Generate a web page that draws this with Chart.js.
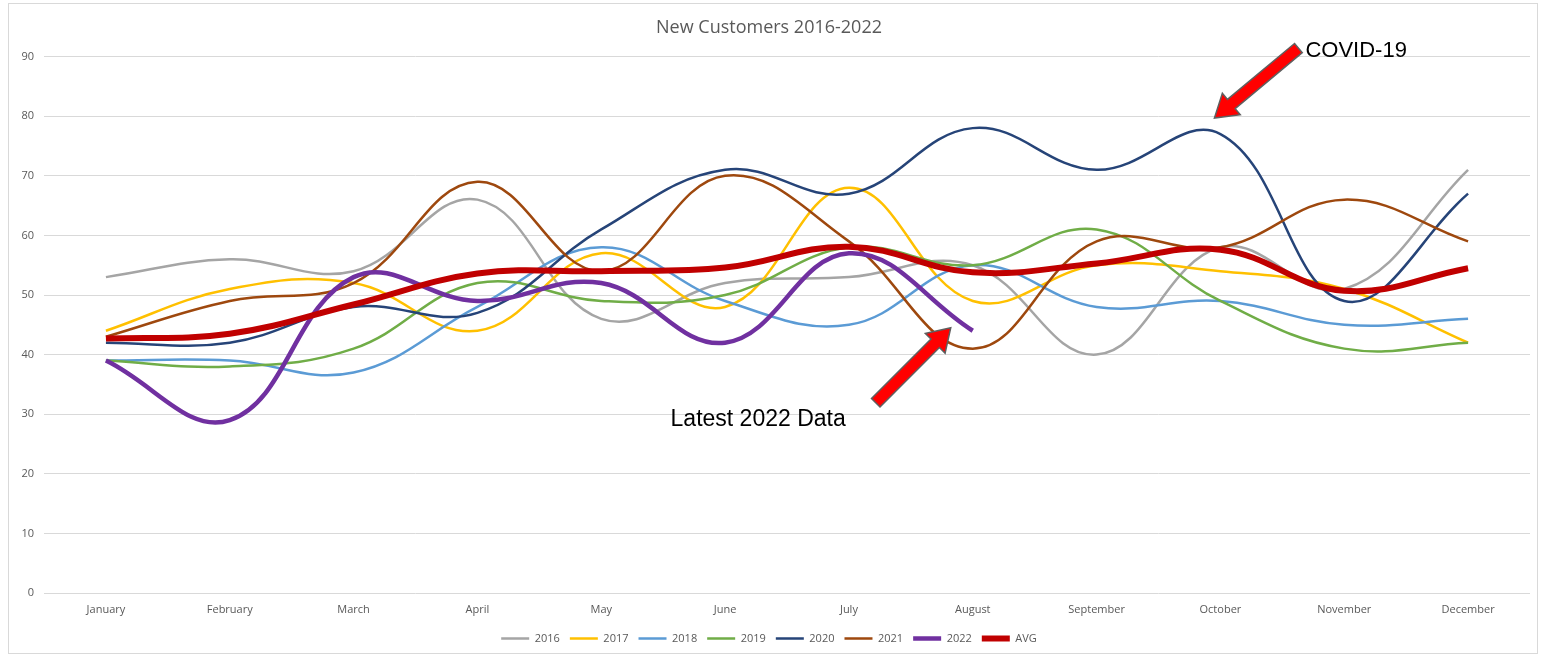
<!DOCTYPE html>
<html>
<head>
<meta charset="utf-8">
<title>New Customers 2016-2022</title>
<script src="https://cdn.jsdelivr.net/npm/chart.js@4"></script>
<style>
  html, body { margin: 0; padding: 0; background: #fff; }
  #wrap { width: 1542px; height: 657px; }
</style>
</head>
<body>
<div id="wrap"><canvas id="myChartClientes" width="1542" height="657"></canvas></div>
<script>
// Datos
const meses = ["January", "February", "March", "April", "May", "June", "July", "August", "September", "October", "November", "December"];
const data2016 = [53, 56, 54, 66, 46, 52, 53, 55, 40, 58, 51, 71];
const data2017 = [44, 51, 52, 44, 57, 48, 68, 49, 55, 54, 51, 42];
const data2018 = [39, 39, 37, 48, 58, 49, 45, 55, 48, 49, 45, 46];
const data2019 = [39, 38, 41, 52, 49, 50, 58, 55, 61, 49, 41, 42];
const data2020 = [42, 42, 48, 47, 61, 71, 67, 78, 71, 77, 49, 67];
const data2021 = [43, 49, 52, 69, 54, 70, 59, 41, 59, 58, 66, 59];
const data2022 = [39, 29, 53, 49, 52, 42, 57, 44];
const dataAVG = [42.7, 43.5, 48.4, 53.6, 54, 54.6, 58.1, 53.8, 55.3, 57.6, 50.7, 54.5];
const yTicks = [0, 10, 20, 30, 40, 50, 60, 70, 80, 90];

// flechas de anotacion
function drawArrow(ctx, tipX, tipY, tailX, tailY) {
    const dx = tipX - tailX, dy = tipY - tailY;
    const len = Math.sqrt(dx * dx + dy * dy);
    const ux = dx / len, uy = dy / len;
    const px = -uy, py = ux;
    const shaft = 6, head = 14, headLen = 22;
    const bx = tipX - ux * headLen, by = tipY - uy * headLen;
    ctx.save();
    ctx.beginPath();
    ctx.moveTo(tailX + px * shaft, tailY + py * shaft);
    ctx.lineTo(bx + px * shaft, by + py * shaft);
    ctx.lineTo(bx + px * head, by + py * head);
    ctx.lineTo(tipX, tipY);
    ctx.lineTo(bx - px * head, by - py * head);
    ctx.lineTo(bx - px * shaft, by - py * shaft);
    ctx.lineTo(tailX - px * shaft, tailY - py * shaft);
    ctx.closePath();
    ctx.fillStyle = "#ff0000";
    ctx.fill();
    ctx.lineWidth = 1.5;
    ctx.strokeStyle = "#5f5f5f";
    ctx.stroke();
    ctx.restore();
}

const notasPlugin = {
    id: "notas",
    beforeDraw(chart) {
        const ctx = chart.ctx;
        ctx.save();
        ctx.fillStyle = "#ffffff";
        ctx.fillRect(0, 0, chart.width, chart.height);
        ctx.strokeStyle = "#d9d9d9";
        ctx.lineWidth = 1;
        ctx.strokeRect(8.5, 3.5, 1529, 650);
        ctx.restore();
    },
    afterDraw(chart) {
        const ctx = chart.ctx;
        const xs = chart.scales.x, ys = chart.scales.y;
        // COVID-19 -> octubre 2020
        const cx = xs.getPixelForValue(9) - 6, cy = ys.getPixelForValue(data2020[9]) - 16;
        drawArrow(ctx, cx, cy, cx + 84, cy - 70);
        // Latest 2022 -> ultimo dato de 2022
        const lx = xs.getPixelForValue(data2022.length - 1) - 22, ly = ys.getPixelForValue(data2022[data2022.length - 1]) - 3;
        drawArrow(ctx, lx, ly, lx - 75, ly + 75);
        ctx.save();
        ctx.fillStyle = "#000000";
        ctx.textBaseline = "middle";
        ctx.textAlign = "left";
        ctx.font = "22px 'Liberation Sans', Arial, sans-serif";
        ctx.fillText("COVID-19", cx + 91, cy - 67);
        ctx.textAlign = "right";
        ctx.font = "23px 'Liberation Sans', Arial, sans-serif";
        ctx.fillText("Latest 2022 Data", lx - 105, ly + 92);
        ctx.restore();
    }
};

function serie(label, data, color, width, order) {
    return {
        label: label,
        data: data,
        borderColor: color,
        backgroundColor: color,
        borderWidth: width,
        pointRadius: 0,
        pointHoverRadius: 0,
        tension: 0.4,
        fill: false,
        order: order,
    };
}

const ctxClientes = document.getElementById("myChartClientes").getContext("2d");
let myChartClientes = new Chart(ctxClientes, {
    type: "line",
    data: {
        labels: meses,
        datasets: [
            serie("2016", data2016, "#a5a5a5", 2.5, 7),
            serie("2017", data2017, "#ffc000", 2.5, 6),
            serie("2018", data2018, "#5b9bd5", 2.5, 5),
            serie("2019", data2019, "#70ad47", 2.5, 4),
            serie("2020", data2020, "#264478", 2.5, 3),
            serie("2021", data2021, "#9e480e", 2.5, 2),
            serie("2022", data2022, "#7030a0", 4.5, 1),
            serie("AVG", dataAVG, "#c00000", 6, 0),
        ],
    },
    plugins: [notasPlugin],
    options: {
        responsive: false,
        animation: false,
        layout: {
            padding: { left: 8, right: 12, top: 0, bottom: 3 },
        },
        plugins: {
            title: {
                display: true,
                text: "New Customers 2016-2022",
                color: "#595959",
                font: { family: "'Open Sans', sans-serif", size: 18, weight: "normal" },
                padding: { top: 17, bottom: 18 },
            },
            legend: {
                position: "bottom",
                labels: {
                    usePointStyle: true,
                    pointStyle: "line",
                    pointStyleWidth: 28,
                    boxWidth: 28,
                    boxHeight: 10,
                    padding: 10,
                    color: "#595959",
                    font: { family: "'Open Sans', sans-serif", size: 11 },
                    sort: (a, b) => a.datasetIndex - b.datasetIndex,
                },
            },
            tooltip: { enabled: false },
        },
        scales: {
            x: {
                offset: true,
                grid: { display: false },
                border: { display: false },
                ticks: {
                    color: "#595959",
                    font: { family: "'Open Sans', sans-serif", size: 11 },
                    padding: 2,
                    maxRotation: 0,
                    autoSkip: false,
                },
                afterFit: (scale) => { scale.height = 30; },
            },
            y: {
                min: yTicks[0],
                max: yTicks[yTicks.length - 1],
                afterBuildTicks: (scale) => { scale.ticks = yTicks.map(v => ({ value: v })); },
                grid: { color: "#d9d9d9", lineWidth: 1, drawTicks: false },
                border: { display: false },
                ticks: {
                    color: "#595959",
                    font: { family: "'Open Sans', sans-serif", size: 11 },
                    padding: 10,
                },
                afterFit: (scale) => { scale.width = 36; },
            },
        },
    },
});
</script>
</body>
</html>
